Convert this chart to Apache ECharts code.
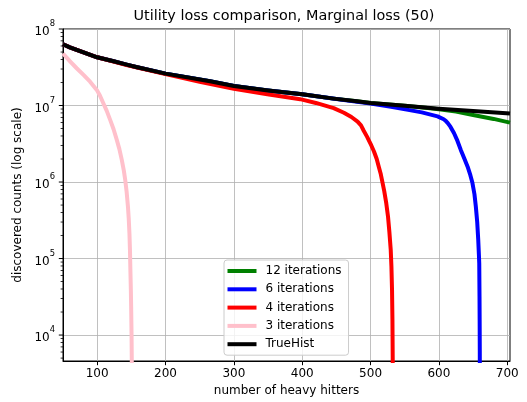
<!DOCTYPE html>
<html>
<head>
<meta charset="utf-8">
<script src="https://cdn.jsdelivr.net/npm/echarts@6/dist/echarts.min.js"></script>
<style>
  html, body { margin: 0; padding: 0; background: #ffffff; }
  #chart { width: 527px; height: 402px; }
</style>
</head>
<body>
<div id="chart"></div>
<script>
// ---- text ----
const titleText = 'Utility loss comparison, Marginal loss (50)';
const xAxisName = 'number of heavy hitters';
const yAxisName = 'discovered counts (log scale)';
const seriesNames = ['12 iterations', '6 iterations', '4 iterations', '3 iterations', 'TrueHist'];

// ---- axis ticks ----
const xTickValues = [100, 200, 300, 400, 500, 600, 700];
const yTickValues = [1e4, 1e5, 1e6, 1e7, 1e8];
const xMin = 50, xMax = 704;
const yMin = 4580, yMax = 1e8;

// ---- series data (number of heavy hitters -> discovered count) ----
const trueHistX = [50, 60, 70, 85, 100, 124, 143, 157, 200, 265, 300, 350, 400, 446, 480, 500, 550, 600, 650, 704];
const trueHistY = [6.31e7, 5.75e7, 5.32e7, 4.76e7, 4.27e7, 3.79e7, 3.42e7, 3.19e7, 2.61e7, 2.07e7, 1.80e7, 1.57e7, 1.40e7, 1.23e7, 1.135e7, 1.08e7, 9.9e6, 9.1e6, 8.5e6, 7.85e6];

const iter12X = [50, 60, 70, 85, 100, 124, 143, 157, 200, 265, 300, 350, 400, 446, 480, 500, 550, 580, 600, 625, 650, 680, 704];
const iter12Y = [6.31e7, 5.75e7, 5.32e7, 4.76e7, 4.27e7, 3.79e7, 3.42e7, 3.19e7, 2.61e7, 2.07e7, 1.80e7, 1.57e7, 1.40e7, 1.23e7, 1.135e7, 1.08e7, 9.9e6, 9.33e6, 8.91e6, 8.32e6, 7.50e6, 6.68e6, 5.98e6];

const iter6X = [50, 60, 70, 85, 100, 124, 143, 157, 200, 265, 300, 350, 400, 450, 500, 530, 555, 575, 598,
  607, 610, 613, 617, 622, 627, 632, 637, 642, 646, 649, 652, 654, 656, 657.5, 658.5, 659, 659.4, 659.6, 659.8, 660];
const iter6Y = [6.31e7, 5.75e7, 5.32e7, 4.76e7, 4.27e7, 3.79e7, 3.42e7, 3.19e7, 2.61e7, 2.07e7, 1.80e7, 1.57e7, 1.40e7, 1.216e7, 1.059e7, 9.66e6, 8.77e6, 8.13e6, 7.21e6,
  6.61e6, 6.31e6, 5.89e6, 5.25e6, 4.37e6, 3.47e6, 2.63e6, 2.04e6, 1.585e6, 1.23e6, 9.77e5, 6.92e5, 4.79e5, 3.02e5, 1.78e5, 1.12e5, 8.71e4, 3.16e4, 1.585e4, 6.3e3, 1e3];

const iter4X = [50, 60, 70, 85, 100, 124, 143, 157, 200, 250, 300, 349, 397, 420, 446, 461, 472,
  481, 486, 490, 495, 500, 505, 509, 512, 515, 518, 520, 523, 525.5, 527.5, 529.5, 530.5, 531.4, 532, 532.4, 532.6];
const iter4Y = [6.31e7, 5.75e7, 5.32e7, 4.76e7, 4.27e7, 3.76e7, 3.39e7, 3.16e7, 2.57e7, 2.04e7, 1.65e7, 1.40e7, 1.21e7, 1.08e7, 9.23e6, 8.04e6, 7.08e6,
  6.17e6, 5.50e6, 4.68e6, 3.89e6, 3.16e6, 2.51e6, 2.00e6, 1.585e6, 1.26e6, 9.33e5, 7.59e5, 5.25e5, 3.55e5, 2.24e5, 1.30e5, 7.94e4, 3.89e4, 1.585e4, 5.0e3, 1e3];

const iter3X = [50, 60, 70, 80, 89.6, 99.4, 104, 109, 114, 119, 124, 128.7, 132.5, 136, 139, 141, 143, 145, 146.2, 147.2, 148, 148.7, 149.3, 149.7, 150.3, 150.7, 151.2];
const iter3Y = [4.79e7, 3.80e7, 3.07e7, 2.51e7, 2.05e7, 1.60e7, 1.35e7, 1.07e7, 8.51e6, 6.49e6, 4.90e6, 3.55e6, 2.69e6, 1.95e6, 1.41e6, 1.07e6, 7.59e5, 4.79e5, 3.31e5, 2.14e5, 1.26e5, 6.46e4, 3.80e4, 2.37e4, 1e4, 4.0e3, 1e3];

// ---- styling ----
const seriesColors = ['#008000', '#0000ff', '#ff0000', '#ffc0cb', '#000000'];
const FONT = '"DejaVu Sans", sans-serif';

const seriesX = [iter12X, iter6X, iter4X, iter3X, trueHistX];
const seriesY = [iter12Y, iter6Y, iter4Y, iter3Y, trueHistY];

// log-axis minor tick positions: 2..9 times each power of ten
const minorTickValues = [];
for (let e = 3; e <= 7; e++) {
  for (let k = 2; k <= 9; k++) {
    const v = k * Math.pow(10, e);
    if (v >= yMin && v <= yMax) minorTickValues.push(v);
  }
}

function isDecade(v) {
  const l = Math.log10(v);
  return Math.abs(l - Math.round(l)) < 1e-6;
}

const lineSeries = seriesNames.map((name, i) => ({
  type: 'line',
  name: name,
  data: seriesX[i].map((x, j) => [x, seriesY[i][j]]),
  showSymbol: false,
  symbol: 'none',
  smooth: false,
  color: seriesColors[i],
  itemStyle: { color: seriesColors[i] },
  lineStyle: { color: seriesColors[i], width: 4, cap: 'butt', join: 'round' },
  clip: true,
  z: 3
}));

// y-axis tick marks (major + minor) sitting just left of the spine
function tickMarks(values, len, width) {
  return {
    type: 'scatter',
    name: 'ytick' + len,
    silent: true,
    clip: false,
    z: 6,
    data: values.map(v => [xMin, v]),
    symbol: 'rect',
    symbolSize: [len, width],
    symbolOffset: [-len / 2, 0],
    itemStyle: { color: '#000000', opacity: 1 },
    emphasis: { disabled: true }
  };
}

const chart = echarts.init(document.getElementById('chart'), null, { renderer: 'canvas' });

chart.setOption({
  animation: false,
  backgroundColor: '#ffffff',
  textStyle: { fontFamily: FONT },
  graphic: [{
    type: 'text',
    x: 284,
    y: 16.5,
    style: {
      text: titleText,
      font: '14.4px ' + FONT,
      fill: '#000000',
      align: 'center',
      verticalAlign: 'middle'
    }
  }],
  grid: {
    left: 63, right: 17, top: 29, bottom: 41,
    show: true, borderColor: '#000000', borderWidth: 1,
    backgroundColor: 'transparent'
  },
  legend: {
    data: seriesNames,
    orient: 'vertical',
    left: 224,
    top: 260,
    icon: 'rect',
    itemWidth: 29,
    itemHeight: 4,
    itemGap: 4.3,
    padding: [4, 7, 4, 3.5],
    backgroundColor: 'rgba(255,255,255,0.8)',
    borderColor: '#cccccc',
    borderWidth: 1,
    borderRadius: 3,
    selectedMode: false,
    textStyle: { fontFamily: FONT, fontSize: 12, color: '#000000', lineHeight: 14, padding: [0, 0, 0, 4] }
  },
  xAxis: {
    type: 'value',
    min: xMin,
    max: xMax,
    minInterval: 100,
    maxInterval: 100,
    name: xAxisName,
    nameLocation: 'middle',
    nameGap: 24,
    nameTextStyle: { fontFamily: FONT, fontSize: 12, color: '#000000' },
    axisLine: { show: true, onZero: false, lineStyle: { color: '#000000', width: 1 } },
    axisTick: { show: true, length: 4.2, customValues: xTickValues, lineStyle: { color: '#000000', width: 1 } },
    axisLabel: { customValues: xTickValues, margin: 7, fontFamily: FONT, fontSize: 12, color: '#000000' },
    splitLine: { show: true, lineStyle: { color: '#b0b0b0', width: 0.8 } }
  },
  yAxis: {
    type: 'log',
    logBase: 10,
    min: yMin,
    max: yMax,
    name: yAxisName,
    nameLocation: 'middle',
    nameGap: 32,
    nameTextStyle: { fontFamily: FONT, fontSize: 12, color: '#000000' },
    axisLine: { show: true, onZero: false, lineStyle: { color: '#000000', width: 1 } },
    axisTick: { show: false },
    minorTick: { show: false },
    axisLabel: {
      margin: 8,
      formatter: function (v) {
        if (!isDecade(v)) return '';
        return '{b|10}{s|' + Math.round(Math.log10(v)) + '}';
      },
      rich: {
        b: { fontFamily: FONT, fontSize: 12, color: '#000000', lineHeight: 18, verticalAlign: 'bottom' },
        s: { fontFamily: FONT, fontSize: 8.4, color: '#000000', lineHeight: 10, verticalAlign: 'top' }
      }
    },
    splitLine: { show: true, lineStyle: { color: '#b0b0b0', width: 0.8 } }
  },
  series: lineSeries.concat([tickMarks(yTickValues, 4.2, 1), tickMarks(minorTickValues, 2.4, 0.8)])
});
</script>
</body>
</html>
